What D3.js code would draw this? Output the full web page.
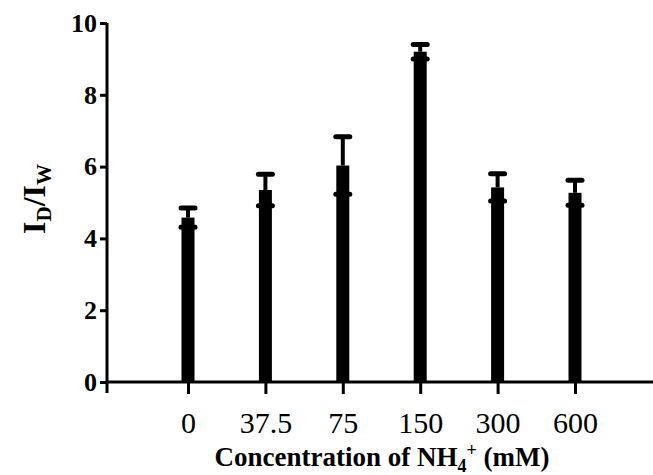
<!DOCTYPE html>
<html lang="en">
<head>
<meta charset="utf-8">
<title>ID/IW vs NH4+ concentration</title>
<script src="https://cdn.jsdelivr.net/npm/d3@7"></script>
<style>
  body { margin: 0; background: #fff; }
  svg { display: block; }
</style>
</head>
<body>
<script>
// data
var categories = ["0", "37.5", "75", "150", "300", "600"];
var means = [4.58, 5.35, 6.03, 9.2, 5.42, 5.27];
var errors = [0.27, 0.44, 0.8, 0.2, 0.38, 0.35];
var yTicks = [0, 2, 4, 6, 8, 10];

var w = 653, h = 475;
var plotLeft = 107, plotRight = 653, plotTop = 23, plotBottom = 382;

var svg = d3.select("body").append("svg")
  .attr("width", w)
  .attr("height", h);

var x = d3.scalePoint()
  .domain(categories)
  .range([188, 575]);

var y = d3.scaleLinear()
  .domain([0, 10])
  .range([plotBottom, plotTop]);

var barW = 13, capW = 19;

// bars
svg.append("g").selectAll("rect")
  .data(categories)
  .enter().append("rect")
  .attr("x", function(d) { return x(d) - barW / 2; })
  .attr("y", function(d, i) { return y(means[i]); })
  .attr("width", barW)
  .attr("height", function(d, i) { return plotBottom - y(means[i]); })
  .attr("fill", "#000");

// error bar stems
svg.append("g").selectAll("line")
  .data(categories)
  .enter().append("line")
  .attr("x1", function(d) { return x(d); })
  .attr("x2", function(d) { return x(d); })
  .attr("y1", function(d, i) { return y(means[i]); })
  .attr("y2", function(d, i) { return y(means[i] + errors[i]); })
  .attr("stroke", "#000")
  .attr("stroke-width", 4);

// upper and lower caps
var caps = svg.append("g");
[1, -1].forEach(function(sign) {
  var cls = sign > 0 ? "cap-up" : "cap-dn";
  caps.selectAll("rect." + cls)
    .data(categories)
    .enter().append("rect")
    .attr("class", cls)
    .attr("x", function(d) { return x(d) - capW / 2; })
    .attr("y", function(d, i) { return y(means[i] + sign * errors[i]) - 2.5; })
    .attr("width", capW)
    .attr("height", 5)
    .attr("rx", 2.5)
    .attr("fill", "#000");
});

// y axis
var yAxis = d3.axisLeft(y)
  .tickValues(yTicks)
  .tickSize(7)
  .tickSizeOuter(0)
  .tickPadding(3);

var gy = svg.append("g")
  .attr("transform", "translate(" + plotLeft + ",0)")
  .call(yAxis);
gy.select(".domain").remove();
gy.selectAll(".tick line").attr("stroke", "#000").attr("stroke-width", 3);
gy.selectAll(".tick text")
  .attr("font-family", "Liberation Serif, Times New Roman, serif")
  .attr("font-weight", "bold")
  .attr("font-size", "26px")
  .attr("fill", "#000");

// x axis
var xAxis = d3.axisBottom(x)
  .tickSize(12)
  .tickSizeOuter(0)
  .tickPadding(18);

var gx = svg.append("g")
  .attr("transform", "translate(0," + plotBottom + ")")
  .call(xAxis);
gx.select(".domain").remove();
gx.selectAll(".tick line").attr("stroke", "#000").attr("stroke-width", 3);
gx.selectAll(".tick text")
  .attr("font-family", "Liberation Serif, Times New Roman, serif")
  .attr("font-size", "30px")
  .attr("fill", "#000");

// axis lines
svg.append("line")
  .attr("x1", plotLeft).attr("x2", plotLeft)
  .attr("y1", plotTop).attr("y2", plotBottom + 11)
  .attr("stroke", "#000").attr("stroke-width", 3);
svg.append("line")
  .attr("x1", plotLeft).attr("x2", plotRight)
  .attr("y1", plotBottom).attr("y2", plotBottom)
  .attr("stroke", "#000").attr("stroke-width", 3);

// x title
var xt = svg.append("text")
  .attr("x", 382)
  .attr("y", 466)
  .attr("text-anchor", "middle")
  .attr("font-family", "Liberation Serif, Times New Roman, serif")
  .attr("font-weight", "bold")
  .attr("font-size", "27px")
  .attr("fill", "#000");
xt.append("tspan").text("Concentration of NH");
xt.append("tspan").attr("font-size", "18px").attr("dy", 6).text("4");
xt.append("tspan").attr("font-size", "18px").attr("dy", -16).text("+");
xt.append("tspan").attr("dy", 10).text(" (mM)");

// y title
var yt = svg.append("text")
  .attr("transform", "translate(45,199) rotate(-90)")
  .attr("text-anchor", "middle")
  .attr("font-family", "Liberation Serif, Times New Roman, serif")
  .attr("font-weight", "bold")
  .attr("font-size", "32px")
  .attr("fill", "#000");
yt.append("tspan").text("I");
yt.append("tspan").attr("font-size", "21px").attr("dy", 6).text("D");
yt.append("tspan").attr("dy", -6).text("/I");
yt.append("tspan").attr("font-size", "21px").attr("dy", 6).text("W");
</script>
</body>
</html>
